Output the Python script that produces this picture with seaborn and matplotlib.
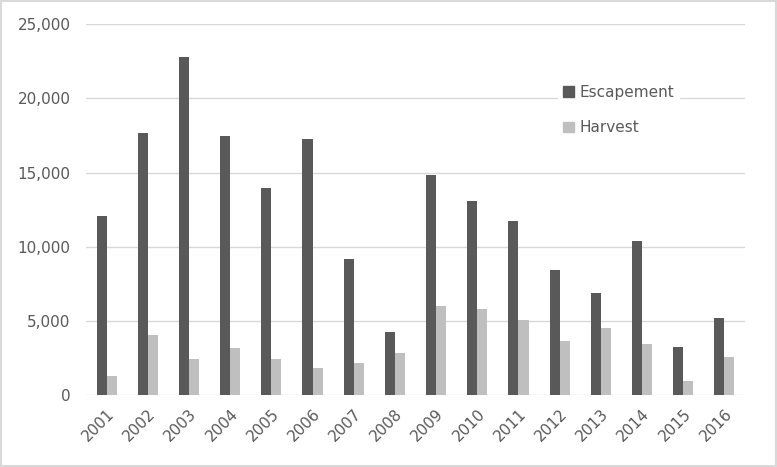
import matplotlib
matplotlib.use("Agg")
import matplotlib.pyplot as plt
import matplotlib.patches as mpatches
import seaborn as sns
import pandas as pd

years = [str(y) for y in range(2001, 2017)]
escapement = [12080, 17680, 22800, 17480, 13970, 17270, 9190, 4270,
              14850, 13100, 11750, 8450, 6900, 10400, 3260, 5210]
harvest = [1300, 4070, 2450, 3190, 2450, 1840, 2180, 2850,
           6020, 5820, 5080, 3660, 4540, 3460, 970, 2580]
series_names = ["Escapement", "Harvest"]
yticks = [0, 5000, 10000, 15000, 20000, 25000]

df = pd.DataFrame({
    "Year": years * 2,
    "Value": escapement + harvest,
    "Series": [series_names[0]] * len(years) + [series_names[1]] * len(years),
})

sns.set_theme(style="white")
plt.rcParams["font.family"] = ["DejaVu Sans"]

fig = plt.figure(figsize=(7.77, 4.67), dpi=100)
ax = fig.add_axes([0.1107, 0.1535, 0.8481, 0.7945])

palette = {"Escapement": "#595959", "Harvest": "#bfbfbf"}
sns.barplot(data=df, x="Year", y="Value", hue="Series", palette=palette,
            width=0.49, gap=0, saturation=1, linewidth=0, ax=ax, legend=False)

ax.set_ylim(0, 25000)
ax.set_yticks(yticks)
ax.set_yticklabels([f"{v:,}" for v in yticks])
ax.set_xlim(-0.5, len(years) - 0.5)
ax.set_xlabel("")
ax.set_ylabel("")
ax.grid(axis="y", color="#d9d9d9", linewidth=1)
ax.set_axisbelow(True)
for s in ["top", "right", "left", "bottom"]:
    ax.spines[s].set_visible(False)
ax.tick_params(axis="both", length=0, colors="#595959", labelsize=11)
ax.tick_params(axis="y", pad=11)
ax.tick_params(axis="x", pad=8)
for lab in ax.get_xticklabels():
    lab.set_rotation(45)
    lab.set_ha("right")
    lab.set_rotation_mode("anchor")

handles = [mpatches.Patch(color=palette[n], label=n) for n in series_names]
leg = ax.legend(handles=handles, loc="upper left", bbox_to_anchor=(0.705, 0.87),
                frameon=True, fontsize=11, handlelength=0.7, handleheight=0.7,
                handletextpad=0.4, labelspacing=1.35, borderpad=0.3)
leg.get_frame().set_facecolor("white")
leg.get_frame().set_edgecolor("white")
leg.get_frame().set_alpha(1)
for t in leg.get_texts():
    t.set_color("#595959")

fig.patches.append(mpatches.Rectangle((0.0015, 0.0025), 0.997, 0.995,
                   transform=fig.transFigure, fill=False,
                   edgecolor="#d9d9d9", linewidth=1.5))

fig.savefig("out.png", dpi=100, facecolor="white")
